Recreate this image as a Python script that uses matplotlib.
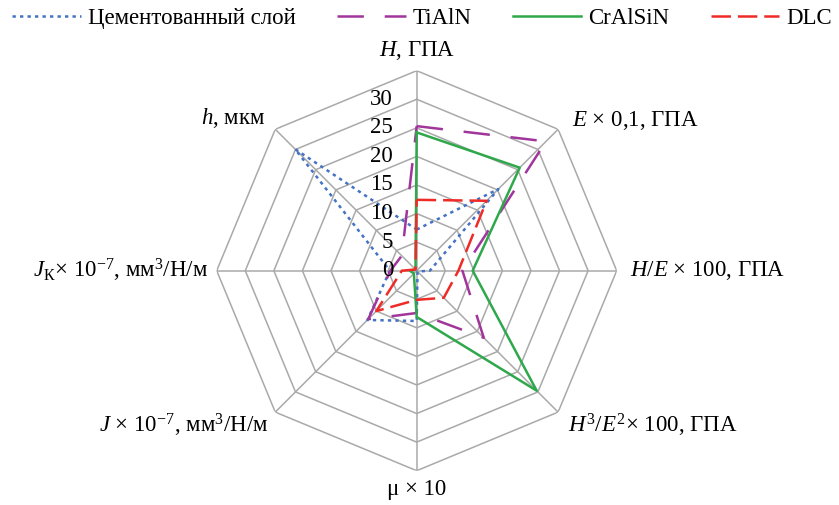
import numpy as np
import matplotlib
matplotlib.use("Agg")
import matplotlib.pyplot as plt

plt.rcParams['font.family'] = ['Liberation Serif', 'DejaVu Serif']
plt.rcParams['mathtext.fontset'] = 'custom'
plt.rcParams['mathtext.rm'] = 'Liberation Serif'
plt.rcParams['mathtext.it'] = 'Liberation Serif:italic'
plt.rcParams['lines.scale_dashes'] = False

# ---- data ----
categories = [r'$H$, ГПА', r'$E$ × 0,1, ГПА', r'$H/E$ × 100, ГПА',
              r'$H^3/E^2$× 100, ГПА', 'μ × 10',
              r'$J$ × 10$^{-7}$, мм$^3$/Н/м', r'$J_{\mathrm{К}}$× 10$^{-7}$, мм$^3$/Н/м',
              r'$h$, мкм']
series_names = ['Цементованный слой', 'TiAlN', 'CrAlSiN', 'DLC']
cement = [7.2, 20.2, 2.3, 0.2, 8.8, 12.2, 4.7, 30.1]
tialn = [25.3, 32.0, 8.0, 16.6, 7.4, 12.0, 4.6, 3.7]
cralsin = [24.2, 25.5, 9.8, 29.7, 8.1, 0.7, 1.2, 0.3]
dlc = [12.4, 17.3, 7.3, 6.7, 5.1, 10.0, 2.6, 0.3]
tick_values = [0, 5, 10, 15, 20, 25, 30]
grid_levels = [5, 10, 15, 20, 25, 30, 35]
rmax = 35

W, H = 839, 505
fig = plt.figure(figsize=(W / 100, H / 100), dpi=100)
cx, cy, R = 416.7, 505 - 270.7, 200.0
ax = fig.add_axes([(cx - R) / W, (cy - R) / H, 2 * R / W, 2 * R / H], projection='polar')
ax.set_theta_offset(np.pi / 2)
ax.set_theta_direction(-1)
ax.set_ylim(0, rmax)
ax.set_xticks([])
ax.set_yticks([])
ax.grid(False)
ax.spines['polar'].set_visible(False)
ax.patch.set_visible(False)

n = len(categories)
theta = np.arange(n) * 2 * np.pi / n
theta_c = np.append(theta, theta[0])

gcol = '#A9A9A9'
for lv in grid_levels:
    ax.plot(theta_c, [lv] * (n + 1), color=gcol, lw=1.1, zorder=1)
for t in theta:
    ax.plot([t, t], [0, rmax], color=gcol, lw=1.1, zorder=1)

styles = [
    dict(color='#4472C4', lw=1.8, linestyle=(0, (2.4, 3.0)), dash_capstyle='butt'),
    dict(color='#A1359C', lw=1.8, linestyle=(0, (19, 15))),
    dict(color='#2EA84A', lw=1.8, linestyle='-'),
    dict(color='#EE2B26', lw=1.8, linestyle=(0, (14, 5))),
]
handles = []
for name, vals, st in zip(series_names, [cement, tialn, cralsin, dlc], styles):
    v = list(vals) + [vals[0]]
    ln, = ax.plot(theta_c, v, label=name, zorder=3, **st)
    handles.append(ln)

fs = 16.5
for tv in tick_values:
    ax.annotate(str(tv), xy=(0, tv), xytext=(-17, 0), textcoords='offset points',
                ha='right', va='center', fontsize=fs, zorder=4)

px = 72 / 100
offsets = [(0, 20, 'center'), (14, 9, 'left'), (13, 0, 'left'), (10, -13, 'left'),
           (0, -19, 'center'), (-7, -13, 'right'), (-9, 0, 'right'), (-10, 11, 'right')]
for t, lab, (dx, dy, ha) in zip(theta, categories, offsets):
    ax.annotate(lab, xy=(t, rmax), xytext=(dx * px, dy * px), textcoords='offset points',
                ha=ha, va='center', fontsize=fs, annotation_clip=False)

fig.legend(handles=handles, loc='center', bbox_to_anchor=(0.503, 0.964), ncol=4,
           frameon=False, fontsize=fs, handlelength=3.0, handletextpad=0.3,
           columnspacing=1.8)

fig.savefig('out.png', dpi=100)
